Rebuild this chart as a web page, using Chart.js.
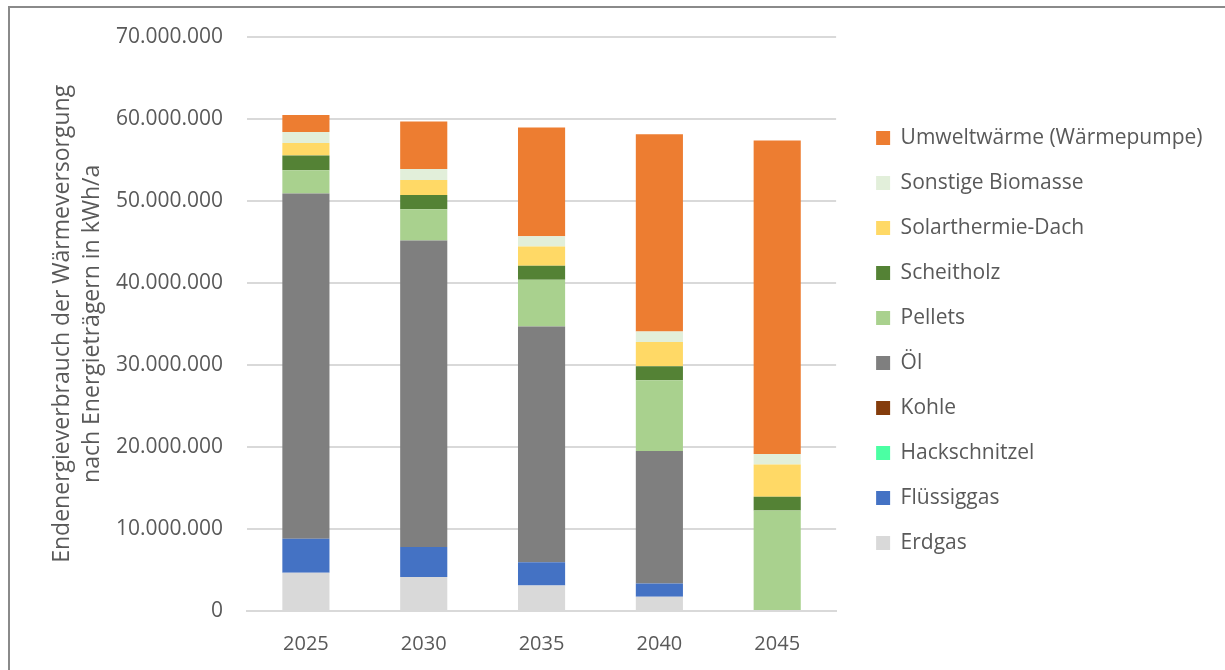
<!DOCTYPE html>
<html lang="de">
<head>
<meta charset="utf-8">
<title>Endenergieverbrauch Wärmeversorgung</title>
<script src="https://cdn.jsdelivr.net/npm/chart.js@4/dist/chart.umd.min.js"></script>
<style>
    html, body { margin: 0; padding: 0; background: #ffffff; }
    #rahmen {
        position: absolute;
        left: 8px;
        top: 6px;
        width: 1217px;
        height: 664px;
        border-top: 2px solid #8a8a8a;
        border-left: 2px solid #8a8a8a;
        box-sizing: border-box;
    }
    #wrap { position: absolute; left: 0; top: 0; width: 1225px; height: 670px; }
</style>
</head>
<body>
<div id="rahmen"></div>
<div id="wrap"><canvas id="graficoWaerme" width="1225" height="670"></canvas></div>
<script>
const jahre = ['2025', '2030', '2035', '2040', '2045'];

// Werte in kWh/a, von unten nach oben gestapelt
const erdgas = [4660000, 4130000, 3120000, 1750000, 0];
const fluessiggas = [4130000, 3680000, 2830000, 1610000, 0];
const hackschnitzel = [0, 0, 0, 0, 0];
const kohle = [0, 0, 0, 0, 0];
const oel = [42100000, 37340000, 28720000, 16140000, 0];
const pellets = [2830000, 3800000, 5710000, 8620000, 12260000];
const scheitholz = [1780000, 1740000, 1700000, 1700000, 1660000];
const solarthermie = [1540000, 1820000, 2340000, 2950000, 3920000];
const sonstigeBiomasse = [1330000, 1340000, 1260000, 1300000, 1300000];
const umweltwaerme = [2070000, 5790000, 13230000, 24030000, 38190000];

const yTicks = [0, 10000000, 20000000, 30000000, 40000000, 50000000, 60000000, 70000000];

const textFarbe = '#595959';
const gitterFarbe = '#d9d9d9';
const schrift = "'Open Sans', 'Liberation Sans', sans-serif";

function formatTausender(wert) {
    return String(Math.round(wert)).replace(/\B(?=(\d{3})+(?!\d))/g, '.');
}

const reihen = [
    { label: 'Erdgas', data: erdgas, color: '#d9d9d9' },
    { label: 'Flüssiggas', data: fluessiggas, color: '#4472c4' },
    { label: 'Hackschnitzel', data: hackschnitzel, color: '#4bffa3' },
    { label: 'Kohle', data: kohle, color: '#843c0c' },
    { label: 'Öl', data: oel, color: '#7f7f7f' },
    { label: 'Pellets', data: pellets, color: '#a9d18e' },
    { label: 'Scheitholz', data: scheitholz, color: '#548235' },
    { label: 'Solarthermie-Dach', data: solarthermie, color: '#ffd966' },
    { label: 'Sonstige Biomasse', data: sonstigeBiomasse, color: '#e2efda' },
    { label: 'Umweltwärme (Wärmepumpe)', data: umweltwaerme, color: '#ed7d31' }
];

// Legende etwas nach oben schieben
const legendeVersatz = {
    id: 'legendeVersatz',
    afterLayout(chart) {
        if (!chart.legend) return;
        chart.legend.top -= 5;
        chart.legend.bottom -= 5;
    }
};

document.addEventListener('DOMContentLoaded', () => {
    const ctx = document.getElementById('graficoWaerme').getContext('2d');
    new Chart(ctx, {
        type: 'bar',
        data: {
            labels: jahre,
            datasets: reihen.map((r) => ({
                label: r.label,
                data: r.data,
                backgroundColor: r.color,
                borderWidth: 0,
                categoryPercentage: 0.8,
                barPercentage: 0.5
            }))
        },
        plugins: [legendeVersatz],
        options: {
            responsive: false,
            animation: false,
            layout: { padding: { left: 48, right: 12.5, top: 22, bottom: 1 } },
            plugins: {
                tooltip: { enabled: false },
                legend: {
                    position: 'right',
                    align: 'center',
                    reverse: true,
                    maxWidth: 420,
                    labels: {
                        color: textFarbe,
                        font: { family: schrift, size: 21 },
                        boxWidth: 14,
                        boxHeight: 14,
                        padding: 24
                    }
                }
            },
            scales: {
                x: {
                    stacked: true,
                    grid: { display: false },
                    border: { display: true, color: gitterFarbe, width: 2 },
                    ticks: { color: textFarbe, font: { family: schrift, size: 20 }, padding: 13 }
                },
                y: {
                    stacked: true,
                    min: 0,
                    max: 70000000,
                    afterBuildTicks: (axis) => {
                        axis.ticks = yTicks.map((v) => ({ value: v }));
                    },
                    afterFit: (axis) => {
                        axis.width = 199;
                    },
                    grid: { color: gitterFarbe, lineWidth: 2, drawTicks: false },
                    border: { display: false },
                    ticks: {
                        color: textFarbe,
                        font: { family: schrift, size: 21 },
                        padding: 24,
                        callback: (v) => formatTausender(v)
                    },
                    title: {
                        display: true,
                        text: ['Endenergieverbrauch der Wärmeversorgung', 'nach Energieträgern in kWh/a'],
                        color: textFarbe,
                        font: { family: schrift, size: 23, lineHeight: 1.3 },
                        padding: { top: 0, bottom: 6 }
                    }
                },
                // leere Achse als Abstand zwischen Balken und Legende
                abstand: {
                    position: 'right',
                    display: true,
                    grid: { display: false },
                    border: { display: false },
                    ticks: { display: false },
                    afterFit: (axis) => {
                        axis.width = 16;
                    }
                }
            }
        }
    });
});
</script>
</body>
</html>
